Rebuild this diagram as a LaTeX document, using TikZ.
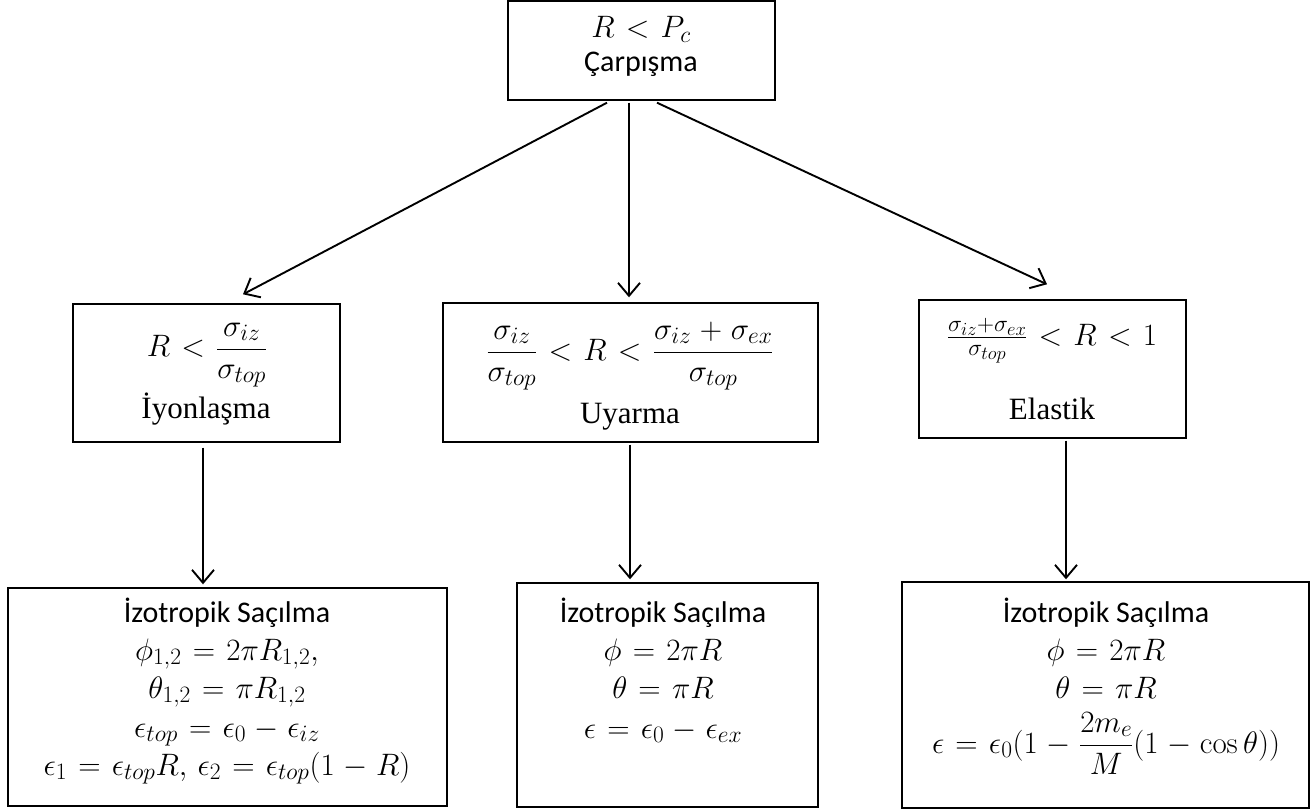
\IfFileExists{fix-cm.sty}{\RequirePackage{fix-cm}}{}
\documentclass[tikz,border=0pt]{standalone}
\usepackage{amsmath}
\usepackage[no-math]{fontspec}
\setmainfont{Liberation Serif}
\newfontfamily\calfont{Carlito}
\DeclareMathSizes{31}{31}{23.5}{18.5}
\newcommand{\wsp}{\thickmuskip=6.5mu\relax\medmuskip=5mu\relax}
\usetikzlibrary{arrows.meta}
\tikzset{
  box/.style={draw, line width=1.4pt, inner sep=0pt},
  txt/.style={anchor=base, inner sep=0pt},
  cal/.style={txt, font=\calfont\fontsize{30}{36}\selectfont},
  tms/.style={txt, font=\fontsize{31}{37}\selectfont},
  mth/.style={txt, font=\fontsize{31}{37}\selectfont},
  arr/.style={-{Straight Barb[length=13pt,width=22pt,line width=1.9pt]}, line width=1.9pt}
}
\begin{document}
\begin{tikzpicture}[x=1pt,y=-1pt]
\useasboundingbox (0,0) rectangle (1315,810);
% boxes
\node[box, minimum width=267pt, minimum height=99pt] (top) at (641.5,50.5) {};
\node[box, minimum width=267pt, minimum height=138pt] (iyon) at (206.5,373) {};
\node[box, minimum width=375pt, minimum height=139pt] (uyar) at (630.5,372.5) {};
\node[box, minimum width=267pt, minimum height=138pt] (elas) at (1052.5,369) {};
\node[box, minimum width=439pt, minimum height=218pt] (b1) at (227.5,697) {};
\node[box, minimum width=301pt, minimum height=224pt] (b2) at (667.5,695) {};
\node[box, minimum width=407pt, minimum height=226pt] (b3) at (1105.5,695) {};
% top text
\node[mth] (t1) at (641,38) {$\wsp R < P_c$};
\node[cal] (t2) at (641,72) {Çarpışma};
% middle row text
\node[mth] (i1) at (207,357) {$\wsp\displaystyle R < \frac{\sigma_{iz}}{\sigma_{top}}$};
\node[tms] (i2) at (206,418) {İyonlaşma};
\node[mth] (u1) at (630,360) {$\wsp\displaystyle \frac{\sigma_{iz}}{\sigma_{top}} < R < \frac{\sigma_{iz}+\sigma_{ex}}{\sigma_{top}}$};
\node[tms] (u2) at (630,423) {Uyarma};
\node[mth] (e1) at (1052,345) {$\wsp\tfrac{\sigma_{iz}+\sigma_{ex}}{\sigma_{top}} < R < 1$};
\node[tms] (e2) at (1052,419) {Elastik};
% bottom left
\node[cal] (a1) at (227,622) {İzotropik Saçılma};
\node[mth] (a2) at (227,660) {$\wsp\phi_{1,2} = 2\pi R_{1,2},$};
\node[mth] (a3) at (227,698) {$\wsp\theta_{1,2} = \pi R_{1,2}$};
\node[mth] (a4) at (227,737) {$\wsp\epsilon_{top} = \epsilon_0 - \epsilon_{iz}$};
\node[mth] (a5) at (227,775) {$\wsp\epsilon_1 = \epsilon_{top}R,\, \epsilon_2 = \epsilon_{top}(1-R)$};
% bottom middle
\node[cal] (c1) at (663,622) {İzotropik Saçılma};
\node[mth] (c2) at (663,660) {$\wsp\phi = 2\pi R$};
\node[mth] (c3) at (663,698) {$\wsp\theta = \pi R$};
\node[mth] (c4) at (663,738) {$\wsp\epsilon = \epsilon_0 - \epsilon_{ex}$};
% bottom right
\node[cal] (d1) at (1106,622) {İzotropik Saçılma};
\node[mth] (d2) at (1106,660) {$\wsp\phi = 2\pi R$};
\node[mth] (d3) at (1106,698) {$\wsp\theta = \pi R$};
\node[mth] (d4) at (1106,753) {$\wsp\displaystyle \epsilon = \epsilon_0(1 - \frac{2m_e}{M}(1-\cos\theta))$};
% connectors
\draw[arr] ([xshift=-34.5pt,yshift=-2pt]top.south) -- ([xshift=36.5pt,yshift=9pt]iyon.north);
\draw[arr] ([xshift=-12.5pt,yshift=-2pt]top.south) -- ([xshift=-1.5pt,yshift=5pt]uyar.north);
\draw[arr] ([xshift=15.5pt,yshift=-2pt]top.south) -- ([xshift=-5.5pt,yshift=15pt]elas.north);
\draw[arr] ([xshift=-3.5pt,yshift=-5pt]iyon.south) -- ([xshift=-24.5pt,yshift=3pt]b1.north);
\draw[arr] ([xshift=-0.5pt,yshift=-2pt]uyar.south) -- ([xshift=-37.5pt,yshift=3pt]b2.north);
\draw[arr] ([xshift=13.5pt,yshift=-2pt]elas.south) -- ([xshift=-39.5pt,yshift=2pt]b3.north);
\end{tikzpicture}
\end{document}
